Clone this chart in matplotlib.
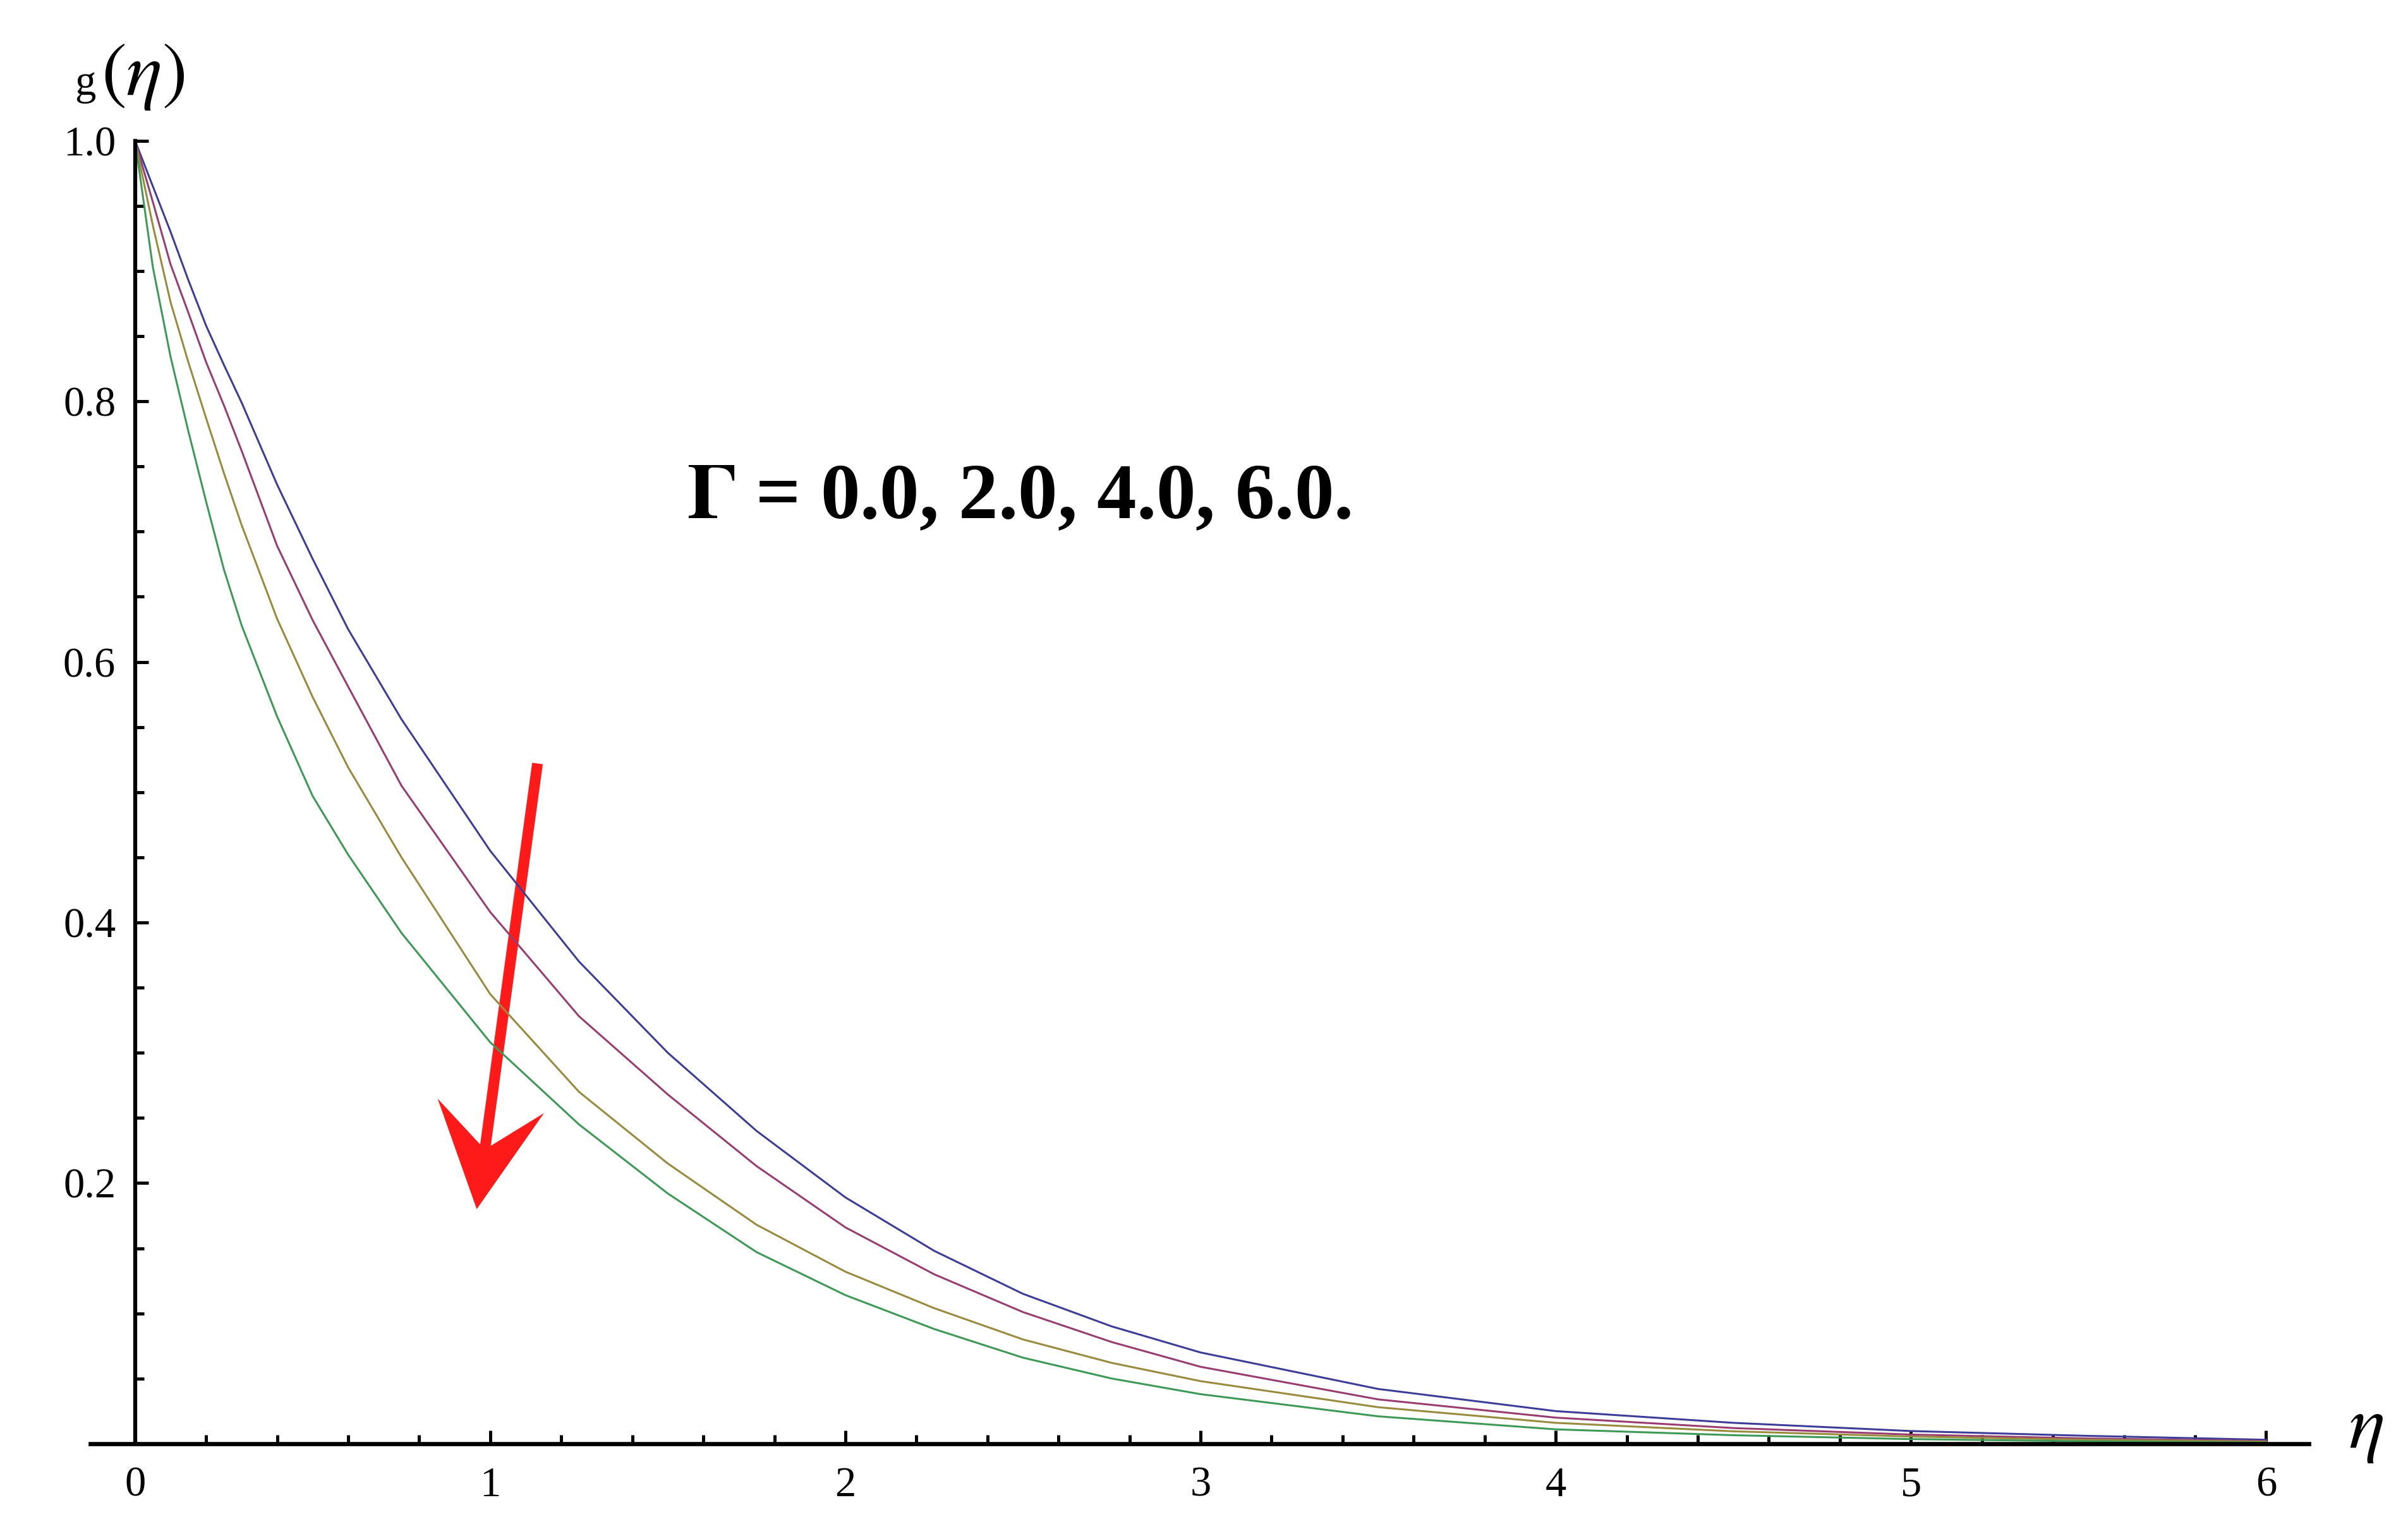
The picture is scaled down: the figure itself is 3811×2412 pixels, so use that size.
import matplotlib
matplotlib.use("Agg")
import matplotlib.pyplot as plt
from matplotlib.ticker import MultipleLocator
from matplotlib.patches import FancyArrow
from matplotlib.transforms import IdentityTransform

plt.rcParams['font.family'] = ['Liberation Serif', 'DejaVu Serif']
plt.rcParams['mathtext.fontset'] = 'stix'

# values
eta = [0, 0.05, 0.1, 0.15, 0.2, 0.25, 0.3, 0.4, 0.5, 0.6, 0.75, 1.0, 1.25, 1.5,
       1.75, 2.0, 2.25, 2.5, 2.75, 3.0, 3.5, 4.0, 4.5, 5.0, 5.5, 6.0]

g_gamma0 = [1.0, 0.965, 0.93, 0.893, 0.858, 0.828, 0.799, 0.736, 0.679, 0.625, 0.556,
            0.455, 0.370, 0.300, 0.240, 0.189, 0.148, 0.115, 0.090, 0.070, 0.042,
            0.025, 0.016, 0.0097, 0.006, 0.003]
g_gamma2 = [1.0, 0.953, 0.905, 0.868, 0.830, 0.797, 0.762, 0.689, 0.632, 0.581, 0.505,
            0.408, 0.328, 0.268, 0.213, 0.166, 0.130, 0.101, 0.078, 0.059, 0.034,
            0.020, 0.012, 0.007, 0.004, 0.002]
g_gamma4 = [1.0, 0.935, 0.876, 0.830, 0.787, 0.745, 0.705, 0.633, 0.573, 0.519, 0.450,
            0.345, 0.270, 0.215, 0.168, 0.132, 0.104, 0.080, 0.062, 0.048, 0.028,
            0.016, 0.0095, 0.0055, 0.003, 0.0015]
g_gamma6 = [1.0, 0.903, 0.834, 0.777, 0.723, 0.671, 0.628, 0.558, 0.497, 0.452, 0.392,
            0.308, 0.245, 0.192, 0.147, 0.114, 0.088, 0.066, 0.050, 0.038, 0.021,
            0.011, 0.0065, 0.0035, 0.0018, 0.0009]

curves = [g_gamma0, g_gamma2, g_gamma4, g_gamma6]
colors = [(0.24, 0.24, 0.6), (0.6, 0.24, 0.4428), (0.6, 0.547, 0.24), (0.24, 0.6, 0.337)]

xticks = [0, 1, 2, 3, 4, 5, 6]
xtick_labels = ['0', '1', '2', '3', '4', '5', '6']
yticks = [0.2, 0.4, 0.6, 0.8, 1.0]
ytick_labels = ['0.2', '0.4', '0.6', '0.8', '1.0']

note = r'$\mathbf{\Gamma}$' + ' = 0.0, 2.0, 4.0, 6.0.'
note_pos = (1.553, 0.71)
arrow_tail = (1.133, 0.522)
arrow_tip = (0.962, 0.18)

fig = plt.figure(figsize=(38.12, 24.12), dpi=100)
ax = fig.add_axes([0.0375, 0.0527, 0.921, 0.855])

for g, c in zip(curves, colors):
    ax.plot(eta, g, color=c, lw=2.2, clip_on=False)

ax.set_xlim(-0.126, 6.12)
ax.set_ylim(0, 1.0)

for s in ['top', 'right']:
    ax.spines[s].set_visible(False)
ax.spines['left'].set_position(('data', 0))
ax.spines['bottom'].set_position(('data', 0))
ax.spines['left'].set_linewidth(4.5)
ax.spines['bottom'].set_linewidth(4.8)

ax.set_xticks(xticks)
ax.set_xticklabels(xtick_labels)
ax.set_yticks(yticks)
ax.set_yticklabels(ytick_labels)
ax.xaxis.set_minor_locator(MultipleLocator(0.2))
ax.yaxis.set_minor_locator(MultipleLocator(0.05))
ax.tick_params(which='major', direction='in', length=15, width=3.6, labelsize=48)
ax.tick_params(which='minor', direction='in', length=10, width=3.6)
ax.tick_params(axis='y', pad=22)
ax.tick_params(axis='x', pad=26)

ax.text(note_pos[0], note_pos[1], note, fontsize=90, fontweight='bold',
        va='baseline', ha='left')

# red arrow, built in pixel space so the barbed head is not squashed
p0 = ax.transData.transform(arrow_tail)
p1 = ax.transData.transform(arrow_tip)
arr = FancyArrow(p0[0], p0[1], p1[0] - p0[0], p1[1] - p0[1], width=17,
                 head_width=170, head_length=165, overhang=0.38,
                 length_includes_head=True, color='#ff1a1a', lw=0,
                 transform=IdentityTransform(), clip_on=False)
ax.add_artist(arr)

# axis labels, Mathematica style
fig.text(0.031, 0.938, 'g', fontsize=48, va='baseline', ha='left')
fig.text(0.042, 0.938, r'$(\eta)$', fontsize=86, va='baseline', ha='left')
fig.text(0.975, 0.050, r'$\eta$', fontsize=86, va='baseline', ha='left')

fig.savefig('out.png', dpi=100)
